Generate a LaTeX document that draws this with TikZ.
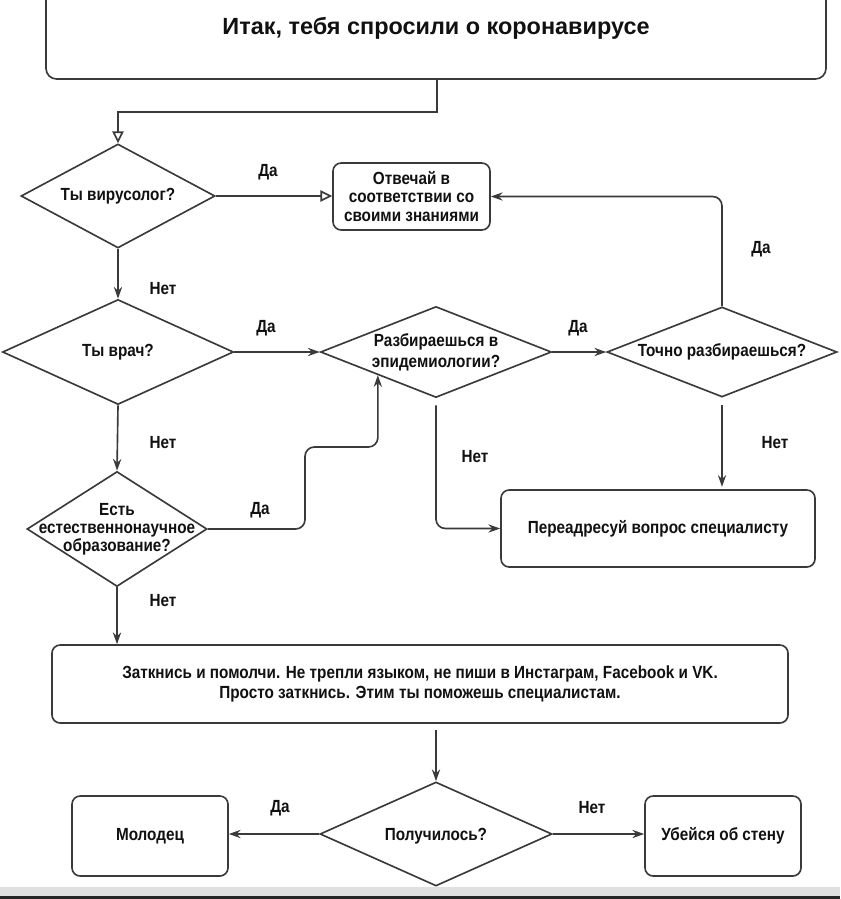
\documentclass[tikz,border=0pt]{standalone}
\usepackage{fontspec}
\setmainfont{Liberation Sans}
\newfontfamily\cnd{Liberation Sans}[FakeStretch=0.87]
\usetikzlibrary{shapes.geometric,arrows.meta}
\definecolor{lc}{HTML}{3A3A3A}
\definecolor{tc}{HTML}{111111}
\begin{document}
\begin{tikzpicture}[x=0.03cm,y=-0.03cm,
  line/.style={draw=lc, line width=1.4pt},
  box/.style={line, rounded corners=7pt, inner sep=0pt, align=center, text=tc,
    font=\cnd\bfseries\fontsize{15}{15.5}\selectfont},
  dia/.style={diamond, line, inner sep=0pt},
  txt/.style={align=center, text=tc, inner sep=0pt, font=\cnd\bfseries\fontsize{15}{15.5}\selectfont},
  lbl/.style={text=tc, inner sep=0pt, font=\cnd\bfseries\fontsize{15}{15}\selectfont},
  tip/.style={-{Stealth[length=10pt,width=7pt]}},
  arr/.style={line, tip},
  oarr/.style={line, -{Triangle[open,length=10pt,width=9.5pt]}}
]
\useasboundingbox (0,0) rectangle (840,899);
\clip (0,0) rectangle (840,899);
\fill[white] (0,0) rectangle (840,899);
\fill[black!12] (0,887) rectangle (840,896);
\fill[black!85] (0,896) rectangle (840,899);

% title box
\draw[line, rounded corners=9pt] (46,-30) rectangle (826,79);
\node[txt, font=\bfseries\fontsize{20}{22}\selectfont] (title) at (436,28) {Итак, тебя спросили о коронавирусе};
\coordinate (tb) at (437,79);

% boxes
\node[box, minimum width=4.71cm, minimum height=2.01cm] (ans) at (411.5,196.5) {Отвечай в\\соответствии со\\своими знаниями};
\node[box, minimum width=9.42cm, minimum height=2.31cm] (redir) at (658,528.5) {Переадресуй вопрос специалисту};
\node[box, minimum width=22.08cm, minimum height=2.34cm, font=\cnd\bfseries\fontsize{15}{16.5}\selectfont] (shut) at (420,684) {Заткнись и помолчи. Не трепли языком, не пиши в Инстаграм, Facebook и VK.\\Просто заткнись. Этим ты поможешь специалистам.};
\node[box, minimum width=4.68cm, minimum height=2.4cm] (good) at (150,836) {Молодец};
\node[box, minimum width=4.68cm, minimum height=2.4cm] (wall) at (723,836) {Убейся об стену};

% diamonds
\node[dia, minimum width=5.82cm, minimum height=3.12cm] (d1) at (118,196) {};
\node[txt] at (d1) {Ты вирусолог?};
\node[dia, minimum width=6.93cm, minimum height=3.15cm] (d2) at (118,352) {};
\node[txt] at (d2) {Ты врач?};
\node[dia, minimum width=6.93cm, minimum height=2.73cm] (d3) at (436,352) {};
\node[txt, font=\cnd\bfseries\fontsize{15}{18}\selectfont] at (d3) {Разбираешься в\\эпидемиологии?};
\node[dia, minimum width=6.9cm, minimum height=2.7cm] (d4) at (722,352) {};
\node[txt] at (d4) {Точно разбираешься?};
\node[dia, minimum width=5.4cm, minimum height=3.45cm] (d5) at (117,529) {};
\node[txt] at (d5) {Есть\\естественнонаучное\\образование?};
\node[dia, minimum width=6.96cm, minimum height=3.12cm] (d6) at (436,834) {};
\node[txt] at (436,836) {Получилось?};

% connectors
\draw[oarr] (tb) -- (437,112) -| (d1.north);
\draw[oarr] (d1.east) -- (d1.east -| ans.west);
\draw[arr] (d1.south) -- (d2.north);
\draw[arr] (d2.east) -- (d3.west);
\draw[arr] (d3.east) -- (d4.west);
\draw[line, rounded corners=8pt, tip] (d4.north) |- (ans.east);
\draw[arr, shorten <=6pt, shorten >=2pt] (d4.south) -- (d4.south |- redir.north);
\draw[line, rounded corners=8pt, shorten <=6pt, tip] (d3.south) |- (redir.west);
\draw[arr] (d2.south) -- (d5.north);
\coordinate (k1) at (305,447);
\draw[line, rounded corners=8pt, tip] (d5.east) -| (k1) -| (d3.south west);
\draw[arr] (d5.south) -- (d5.south |- shut.north);
\coordinate (sb) at (436,723);
\draw[arr, shorten <=6pt] (sb) -- (d6.north);
\draw[arr] (d6.west) -- (d6.west -| good.east);
\draw[arr] (d6.east) -- (d6.east -| wall.west);

% labels
\node[lbl] at (268,172) {Да};
\node[lbl] at (163,289) {Нет};
\node[lbl] at (266,328) {Да};
\node[lbl] at (578,328) {Да};
\node[lbl] at (761,249) {Да};
\node[lbl] at (775,443) {Нет};
\node[lbl] at (475,457) {Нет};
\node[lbl] at (163,443) {Нет};
\node[lbl] at (260,510) {Да};
\node[lbl] at (163,601) {Нет};
\node[lbl] at (280,808) {Да};
\node[lbl] at (592,808) {Нет};
\end{tikzpicture}
\end{document}
